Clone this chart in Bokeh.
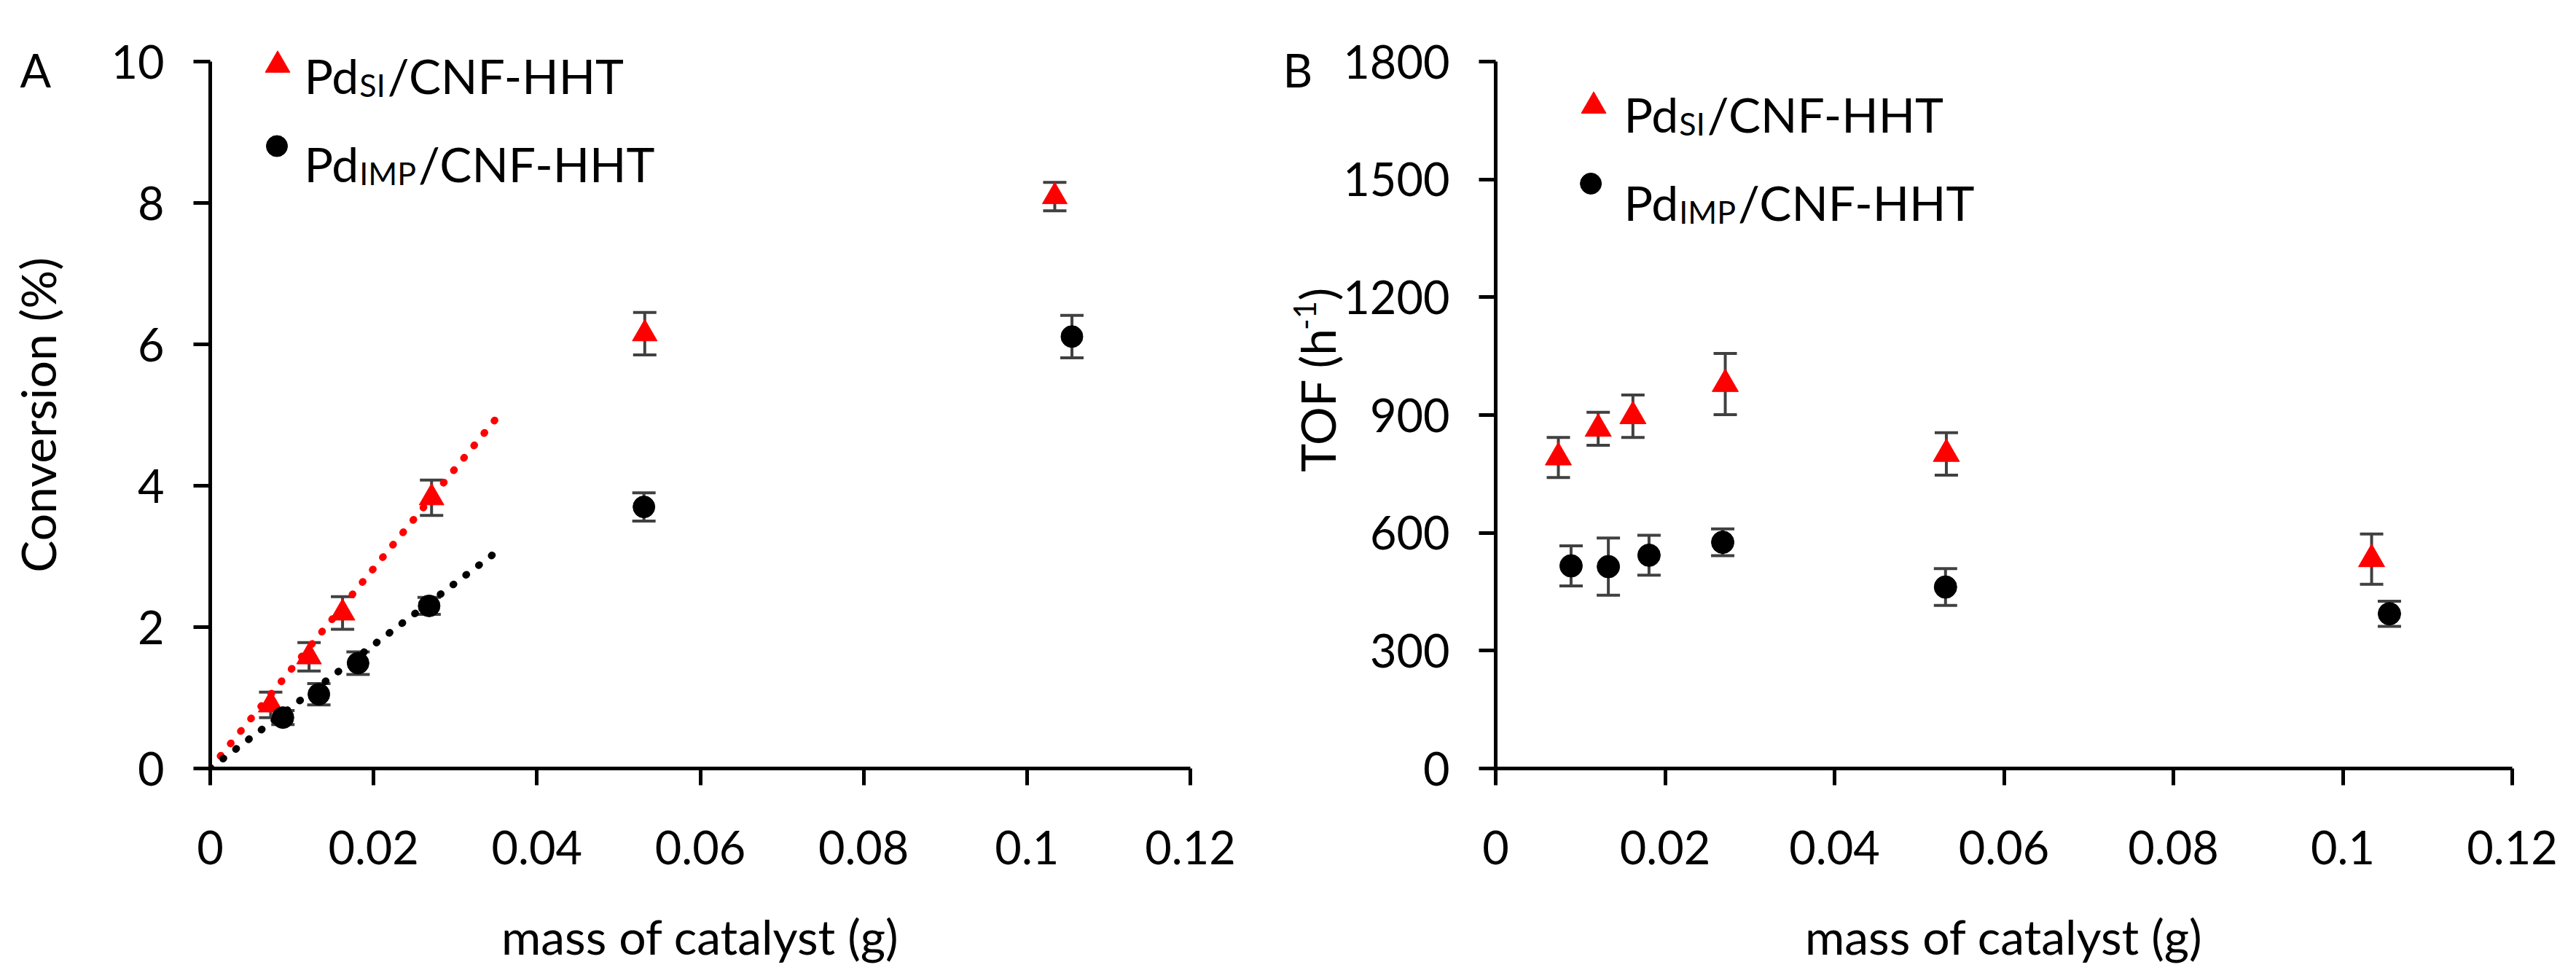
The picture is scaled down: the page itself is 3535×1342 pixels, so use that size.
import glob
import subprocess
from math import pi
from bokeh.plotting import figure
from bokeh.models import ColumnDataSource, Whisker, TeeHead, FixedTicker, Range1d
from bokeh.layouts import row
from bokeh.embed import file_html
from bokeh.resources import INLINE
from bokeh.core.properties import value

# ---------------- data ----------------
mass_si = [0.0074, 0.0121, 0.0162, 0.0271, 0.0532, 0.1034]
mass_imp = [0.0089, 0.0133, 0.0181, 0.0268, 0.0531, 0.1055]

conversion_si = [0.90, 1.58, 2.20, 3.83, 6.15, 8.09]
conversion_si_err = [0.18, 0.20, 0.23, 0.25, 0.30, 0.20]
conversion_imp = [0.72, 1.05, 1.49, 2.30, 3.70, 6.11]
conversion_imp_err = [0.10, 0.15, 0.16, 0.12, 0.20, 0.30]

tof_si = [792, 865, 897, 979, 801, 533]
tof_si_err = [51, 42, 54, 78, 54, 64]
tof_imp = [516, 514, 543, 576, 462, 394]
tof_imp_err = [51, 73, 51, 34, 47, 32]

trend_mass = [0.0, 0.035]
trend_si = [0.0, 4.95]
trend_imp = [0.0, 3.06]

x_ticks = [0, 0.02, 0.04, 0.06, 0.08, 0.1, 0.12]
x_tick_labels = ["0", "0.02", "0.04", "0.06", "0.08", "0.1", "0.12"]
conv_ticks = [0, 2, 4, 6, 8, 10]
tof_ticks = [0, 300, 600, 900, 1200, 1500, 1800]

series_names = [("Pd", "SI", "/CNF-HHT"), ("Pd", "IMP", "/CNF-HHT")]
panel_letters = ["A", "B"]
x_title = "mass of catalyst (g)"
y_title_a = "Conversion (%)"
y_title_b = ("TOF (h", "-1", ")")

# ---------------- styling ----------------
FONT = "Lato"
RED = "#ff0000"
BLACK = "#000000"
ERR = "#404040"
TOTAL_H = 1326
PAGE = 8
TICK_PX = 63
TITLE_PX = 66
LEG_PX = 66
SUB_PX = 43


def _find_font():
    try:
        out = subprocess.run(["fc-match", "-f", "%{file}", "Lato:style=Regular"],
                             capture_output=True, text=True, timeout=5).stdout.strip()
        if out and "Lato" in out:
            return out
    except Exception:
        pass
    for pat in ["/usr/share/fonts/**/Lato-Regular.ttf",
                "/usr/share/fonts/**/Lato*Regular*.ttf",
                "/usr/local/share/fonts/**/Lato-Regular.ttf"]:
        hits = glob.glob(pat, recursive=True)
        if hits:
            return hits[0]
    return None


_FONT_PATH = _find_font()


def text_w(s, size):
    try:
        from PIL import ImageFont
        f = ImageFont.truetype(_FONT_PATH, size)
        return float(f.getlength(s))
    except Exception:
        return 0.56 * size * len(s)


def make_fig(page_x0, fig_w, frame_l, frame_w, frame_t, frame_h, ymax, yticks,
             y_title, ytitle_standoff):
    p = figure(width=fig_w, height=TOTAL_H,
               x_range=Range1d(0, 0.12), y_range=Range1d(0, ymax),
               output_backend="svg", toolbar_location=None, title=None)
    p.min_border_left = frame_l
    p.min_border_right = fig_w - frame_l - frame_w
    p.min_border_top = frame_t
    p.min_border_bottom = TOTAL_H - frame_t - frame_h
    p.outline_line_color = None
    p.grid.visible = False
    p.background_fill_color = "white"
    p.border_fill_color = "white"

    p.xaxis.ticker = FixedTicker(ticks=x_ticks)
    p.xaxis.major_label_overrides = dict(zip(x_ticks, x_tick_labels))
    p.yaxis.ticker = FixedTicker(ticks=yticks)
    for ax in (p.xaxis[0], p.yaxis[0]):
        ax.axis_line_width = 5
        ax.axis_line_color = BLACK
        ax.major_tick_line_width = 5
        ax.major_tick_line_color = BLACK
        ax.major_tick_in = 0
        ax.major_tick_out = 23
        ax.minor_tick_line_color = None
        ax.major_label_text_font = FONT
        ax.major_label_text_font_size = f"{TICK_PX}px"
        ax.major_label_text_color = BLACK
        ax.axis_label_text_font = FONT
        ax.axis_label_text_font_size = f"{TITLE_PX}px"
        ax.axis_label_text_font_style = "normal"
        ax.axis_label_text_color = BLACK
    p.xaxis.major_label_standoff = 62
    p.xaxis.axis_label = x_title
    p.xaxis.axis_label_standoff = 56
    p.yaxis.major_label_standoff = 40
    if y_title:
        p.yaxis.axis_label = y_title
        p.yaxis.axis_label_standoff = ytitle_standoff

    # converters from page pixels to data coordinates (for annotations)
    L = page_x0 + frame_l
    T = PAGE + frame_t

    def mx(px):
        return (px - L) / frame_w * 0.12

    def my(py):
        return (T + frame_h - py) / frame_h * ymax

    return p, mx, my


def add_errors(p, xs, ys, es):
    src = ColumnDataSource(dict(x=xs,
                                upper=[y + e for y, e in zip(ys, es)],
                                lower=[y - e for y, e in zip(ys, es)]))
    w = Whisker(source=src, base="x", upper="upper", lower="lower",
                dimension="height", line_color=ERR, line_width=4,
                upper_head=TeeHead(size=32, line_color=ERR, line_width=4),
                lower_head=TeeHead(size=32, line_color=ERR, line_width=4))
    p.add_layout(w)


def txt(p, x, y, text, size, angle=0.0, align="left"):
    # text glyph on the overlay level so that it is not clipped to the frame
    p.text(x=[x], y=[y], text=[text], text_font=value(FONT),
           text_font_size=value(f"{size}px"), text_color=BLACK,
           text_align=align, text_baseline="alphabetic",
           angle=angle, level="overlay")


def add_legend(p, mx, my, marker_pos, x_text, baselines):
    (tx, ty), (cx, cy) = marker_pos
    p.scatter(x=[mx(tx)], y=[my(ty)], marker="triangle", size=34,
              fill_color=RED, line_color=RED, level="overlay")
    p.scatter(x=[mx(cx)], y=[my(cy)], marker="circle", size=29,
              fill_color=BLACK, line_color=BLACK, level="overlay")
    for (main, sub, rest), base in zip(series_names, baselines):
        x_sub = x_text + text_w(main, LEG_PX) + 1
        x_rest = x_sub + text_w(sub, SUB_PX) + 3
        txt(p, mx(x_text), my(base), main, LEG_PX)
        txt(p, mx(x_sub), my(base + 13), sub, SUB_PX)
        txt(p, mx(x_rest), my(base), rest, LEG_PX)


# ---------------- panel A ----------------
A_W = 1702
pa, ax_, ay_ = make_fig(page_x0=PAGE, fig_w=A_W, frame_l=288, frame_w=1345,
                        frame_t=84, frame_h=987, ymax=10, yticks=conv_ticks,
                        y_title=y_title_a, ytitle_standoff=58)
add_errors(pa, mass_si, conversion_si, conversion_si_err)
add_errors(pa, mass_imp, conversion_imp, conversion_imp_err)
pa.scatter(mass_si, conversion_si, marker="triangle", size=34,
           fill_color=RED, line_color=RED)
pa.scatter(mass_imp, conversion_imp, marker="circle", size=30,
           fill_color=BLACK, line_color=BLACK)
pa.line(trend_mass, trend_si, line_color=RED, line_width=10,
        line_dash="1 21", line_cap="round")
pa.line(trend_mass, trend_imp, line_color=BLACK, line_width=10,
        line_dash="1 21", line_cap="round")
add_legend(pa, ax_, ay_, [(388.5, 97), (387.5, 210)], 425, [111.5, 234.7])
txt(pa, ax_(35), ay_(103), panel_letters[0], 63)

# ---------------- panel B ----------------
BX0 = PAGE + A_W
B_W = 3535 - 2 * PAGE - A_W
pb, bx_, by_ = make_fig(page_x0=BX0, fig_w=B_W, frame_l=2060 - BX0, frame_w=1395,
                        frame_t=75, frame_h=985, ymax=1800, yticks=tof_ticks,
                        y_title=None, ytitle_standoff=0)
add_errors(pb, mass_si, tof_si, tof_si_err)
add_errors(pb, mass_imp, tof_imp, tof_imp_err)
pb.scatter(mass_si, tof_si, marker="triangle", size=36,
           fill_color=RED, line_color=RED)
pb.scatter(mass_imp, tof_imp, marker="circle", size=31,
           fill_color=BLACK, line_color=BLACK)
add_legend(pb, bx_, by_, [(2194.5, 145), (2190.6, 253)], 2236, [156.2, 279])
txt(pb, bx_(1768), by_(94), panel_letters[1], 63)

# y title of panel B with a raised "-1"
t_main, t_sup, t_end = y_title_b
y0 = 655.0
base_x = 1815.0
txt(pb, bx_(base_x), by_(y0), t_main, TITLE_PX, angle=pi / 2)
y1 = y0 - text_w(t_main, TITLE_PX) - 1
txt(pb, bx_(base_x - 17), by_(y1), t_sup, 42, angle=pi / 2)
y2 = y1 - text_w(t_sup, 42) - 1
txt(pb, bx_(base_x), by_(y2), t_end, TITLE_PX, angle=pi / 2)

layout = row(pa, pb)
open("out.html", "w").write(file_html(layout, INLINE))
